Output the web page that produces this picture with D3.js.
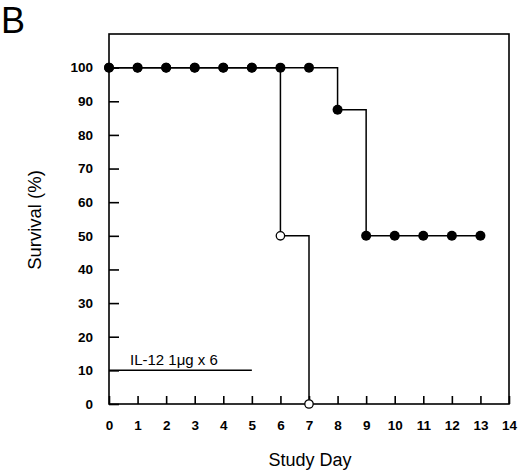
<!DOCTYPE html>
<html>
<head>
<meta charset="utf-8">
<script src="https://cdn.jsdelivr.net/npm/d3@7"></script>
<style>
  body { margin: 0; background: #fff; }
  svg { display: block; font-family: "Liberation Sans", Arial, sans-serif; }
</style>
</head>
<body>
<div class="chart"></div>
<script>
// survival data
var days = [0, 1, 2, 3, 4, 5, 6, 7, 8, 9, 10, 11, 12, 13];
var treated = [100, 100, 100, 100, 100, 100, 100, 100, 87.5, 50, 50, 50, 50, 50];
var controlDays = [0, 1, 2, 3, 4, 5, 6, 7];
var control = [100, 100, 100, 100, 100, 100, 50, 0];
var xTicks = [0, 1, 2, 3, 4, 5, 6, 7, 8, 9, 10, 11, 12, 13, 14];
var yTicks = [0, 10, 20, 30, 40, 50, 60, 70, 80, 90, 100];
var dosing = [0, 5]; // IL-12 treatment period (days)
var dosingLevel = 10;

function draw(){
    var w = 520, h = 471;

    var svg = d3.select("div.chart")
              .append("svg")
              .attr("width", w)
              .attr("height", h);

    var x = d3.scaleLinear().domain([0, 14]).range([109, 509]);
    var y = d3.scaleLinear().domain([0, 110]).range([404, 34]);

    //frame
    svg.append("rect")
        .attr("x", x(0))
        .attr("y", y(110))
        .attr("width", x(14) - x(0))
        .attr("height", y(0) - y(110))
        .attr("fill", "none")
        .attr("stroke", "#000")
        .attr("stroke-width", 1.6);

    //axes with inward ticks
    var yAxis = svg.append("g")
        .attr("transform", "translate(" + x(0) + ",0)")
        .call(d3.axisLeft(y).tickValues(yTicks).tickSize(-10).tickPadding(16));
    var xAxis = svg.append("g")
        .attr("transform", "translate(0," + y(0) + ")")
        .call(d3.axisBottom(x).tickValues(xTicks).tickSize(-8).tickPadding(16));

    [yAxis, xAxis].forEach(function(g){
        g.select(".domain").remove();
        g.selectAll(".tick line").attr("stroke", "#000").attr("stroke-width", 1.6);
        g.selectAll(".tick text")
            .attr("fill", "#000")
            .style("font-size", "13.5px")
            .style("font-weight", "bold");
    });

    //axis titles
    svg.append("text")
        .attr("transform", "translate(41,220) rotate(-90)")
        .attr("text-anchor", "middle")
        .style("font-size", "18.5px")
        .text("Survival (%)");
    svg.append("text")
        .attr("x", 310)
        .attr("y", 466)
        .attr("text-anchor", "middle")
        .style("font-size", "18px")
        .text("Study Day");

    //panel letter
    svg.append("text")
        .attr("x", 1)
        .attr("y", 33)
        .style("font-size", "36px")
        .text("B");

    //treatment bar
    svg.append("line")
        .attr("x1", x(dosing[0]))
        .attr("x2", x(dosing[1]))
        .attr("y1", y(dosingLevel))
        .attr("y2", y(dosingLevel))
        .attr("stroke", "#000")
        .attr("stroke-width", 1.5);
    svg.append("text")
        .attr("x", 130)
        .attr("y", 365)
        .style("font-size", "15px")
        .text("IL-12 1μg x 6");

    var line = d3.line()
        .x(function(d){ return x(d[0]); })
        .y(function(d){ return y(d[1]); })
        .curve(d3.curveStepAfter);

    var ctrl = controlDays.map(function(d, i){ return [d, control[i]]; });
    var trt = days.map(function(d, i){ return [d, treated[i]]; });

    svg.append("path")
        .attr("d", line(ctrl))
        .attr("fill", "none")
        .attr("stroke", "#000")
        .attr("stroke-width", 1.5);
    svg.append("path")
        .attr("d", line(trt))
        .attr("fill", "none")
        .attr("stroke", "#000")
        .attr("stroke-width", 1.5);

    svg.selectAll(".ctrl")
        .data(ctrl)
        .enter()
        .append("circle")
            .attr("class", "ctrl")
            .attr("cx", function(d){ return x(d[0]); })
            .attr("cy", function(d){ return y(d[1]); })
            .attr("r", 4.2)
            .attr("fill", "#fff")
            .attr("stroke", "#000")
            .attr("stroke-width", 1.3);

    svg.selectAll(".trt")
        .data(trt)
        .enter()
        .append("circle")
            .attr("class", "trt")
            .attr("cx", function(d){ return x(d[0]); })
            .attr("cy", function(d){ return y(d[1]); })
            .attr("r", 5)
            .attr("fill", "#000");
}

draw();
</script>
</body>
</html>
